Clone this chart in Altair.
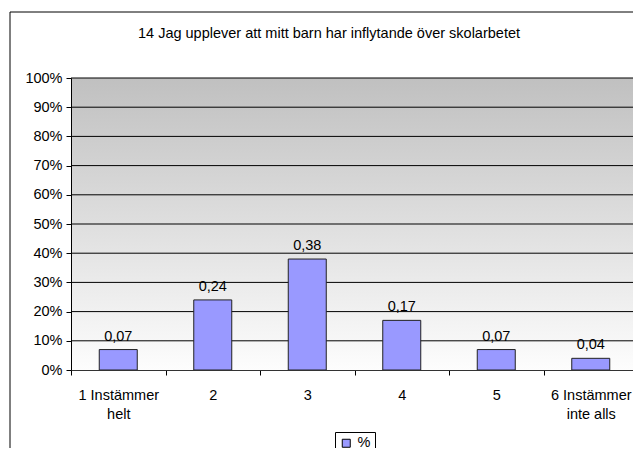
import altair as alt
import pandas as pd

categories = ["1 Instämmer|helt", "2", "3", "4", "5", "6 Instämmer|inte alls"]
values = [0.07, 0.24, 0.38, 0.17, 0.07, 0.04]
series = ["%"] * len(categories)
title_text = "14 Jag upplever att mitt barn har inflytande över skolarbetet"
y_ticks = [0, 0.1, 0.2, 0.3, 0.4, 0.5, 0.6, 0.7, 0.8, 0.9, 1.0]

W, H = 562, 292
XR = 567
FONT = "Liberation Sans"
FS = 14.5

df = pd.DataFrame({"cat": categories, "value": values, "series": series})
grid_df = pd.DataFrame({"value": y_ticks[1:]})
one = alt.Data(values=[{"t": title_text}])

yscale = alt.Scale(domain=[0, 1], nice=False)
yaxis = alt.Axis(values=y_ticks, format=".0%", grid=False, tickSize=5, labelOverlap=False,
                 tickColor="black", domainColor="black", labelPadding=4,
                 labelFontSize=FS, labelFont=FONT, labelColor="black", zindex=1)
xscale = alt.Scale(paddingInner=0, paddingOuter=0, range=[0, XR])
xaxis = alt.Axis(labelAngle=0, labelExpr="split(datum.label, '|')",
                 tickBand="extent", tickSize=5, tickColor="black",
                 domainColor="#333333", labelPadding=13, labelOverlap=False,
                 labelLineHeight=19, labelFontSize=FS, labelFont=FONT,
                 labelColor="black", zindex=1)

x_enc = alt.X("cat:N", sort=categories, title=None, scale=xscale, axis=xaxis)
y_enc = alt.Y("value:Q", title=None, scale=yscale, axis=yaxis)

frame_left = alt.Chart(one).mark_rule(color="black", strokeWidth=1).encode(
    x=alt.value(-61), y=alt.value(-66), y2=alt.value(H + 200))
frame_top = alt.Chart(one).mark_rule(color="black", strokeWidth=1).encode(
    x=alt.value(-61), x2=alt.value(XR + 100), y=alt.value(-66))

bg = alt.Chart(one).mark_rect(
    color=alt.LinearGradient(gradient="linear",
                             stops=[alt.GradientStop(color="#c0c0c0", offset=0),
                                    alt.GradientStop(color="#fdfdfd", offset=1)],
                             x1=0, x2=0, y1=0, y2=1)
).encode(x=alt.value(0), x2=alt.value(XR + 3), y=alt.value(0), y2=alt.value(H))

grid = alt.Chart(grid_df).mark_rule(color="black", strokeWidth=1).encode(
    y=y_enc, x=alt.value(0), x2=alt.value(XR + 3))

title = alt.Chart(one).mark_text(font=FONT, fontSize=FS, color="black", align="center",
                                 baseline="alphabetic").encode(
    x=alt.value(258), y=alt.value(-40), text="t:N")

bars = alt.Chart(df).mark_bar(size=38, stroke="#222222", strokeWidth=1).encode(
    x=x_enc, y=y_enc,
    color=alt.Color("series:N", scale=alt.Scale(domain=["%"], range=["#9999FF"]),
                    legend=alt.Legend(title=None, orient="none", legendX=264, legendY=354,
                                      symbolType="square", symbolSize=64,
                                      symbolStrokeColor="black", symbolStrokeWidth=1,
                                      symbolFillColor="#9999FF",
                                      strokeColor="black", fillColor="white", padding=4,
                                      labelFontSize=FS, labelFont=FONT, labelColor="black",
                                      labelOffset=4)))

labels = alt.Chart(df).transform_calculate(
    lab="replace(format(datum.value, '.2f'), '.', ',')"
).mark_text(font=FONT, fontSize=FS, color="black", baseline="alphabetic", dy=-9).encode(
    x=x_enc, y=y_enc, text="lab:N")

chart = alt.layer(frame_left, frame_top, bg, grid, bars, labels, title).properties(
    width=W, height=H,
    autosize=alt.AutoSizeParams(type="none"),
    padding={"left": 63, "top": 70, "right": 0, "bottom": 78},
).configure_view(stroke=None).configure(background="white")

chart.save("out.html", embed_options={"renderer": "svg", "actions": False})
